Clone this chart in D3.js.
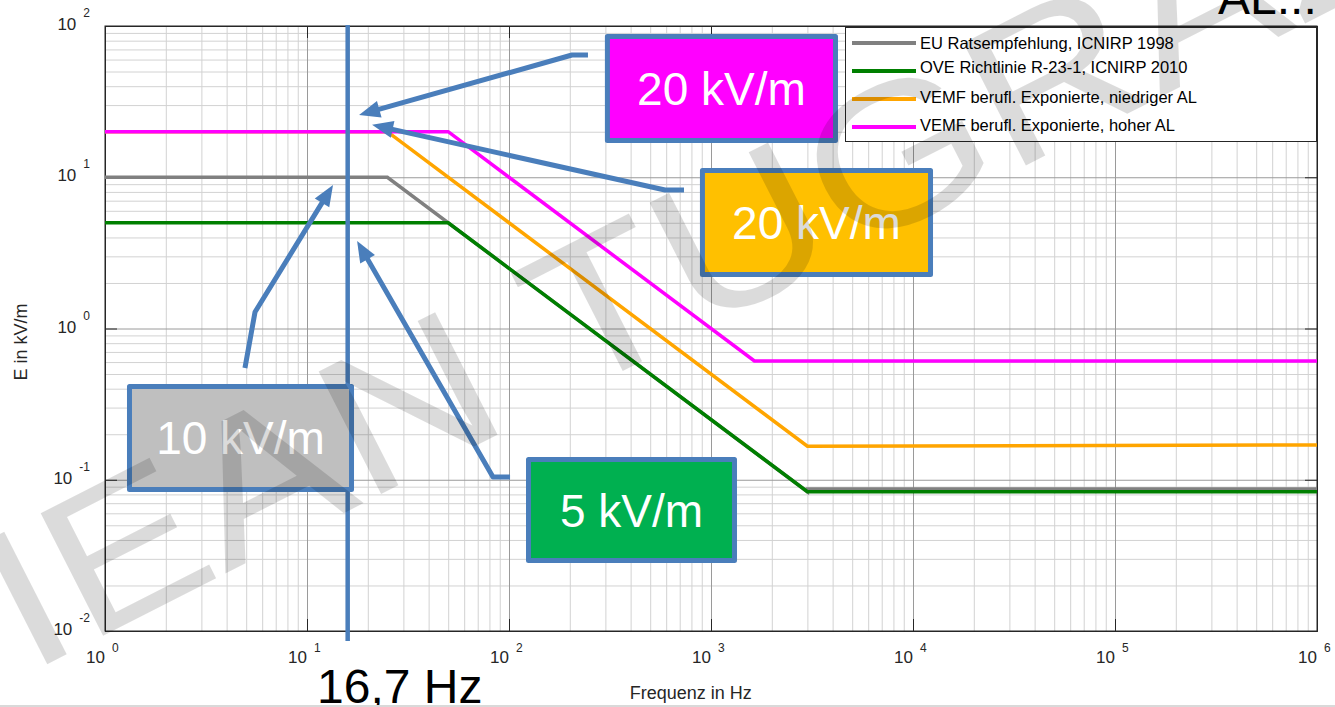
<!DOCTYPE html>
<html>
<head>
<meta charset="utf-8">
<script src="https://cdn.jsdelivr.net/npm/d3@7"></script>
<style>
  body { margin: 0; background: #fff; }
  svg { display: block; font-family: "Liberation Sans", Arial, sans-serif; }
</style>
</head>
<body>
<div id="chart"></div>
<script>
// limit curves: frequency in Hz, field strength in kV/m
var freqEU = [1, 25, 3000, 3000, 1e6];
var eEU = [10, 10, 0.0833, 0.087, 0.087];
var freqOVE = [1, 50, 3000, 1e6];
var eOVE = [5, 5, 0.0833, 0.0833];
var freqLow = [1, 25, 3000, 1e6];
var eLow = [20, 20, 0.1667, 0.17];
var freqHigh = [1, 50, 1640, 1e6];
var eHigh = [20, 20, 0.61, 0.61];

var seriesNames = ["EU Ratsempfehlung, ICNIRP 1998", "OVE Richtlinie R-23-1, ICNIRP 2010",
                   "VEMF berufl. Exponierte, niedriger AL", "VEMF berufl. Exponierte, hoher AL"];
var seriesColors = ["#808080", "#007f00", "#ffa500", "#ff00ff"];

var xExponents = [0, 1, 2, 3, 4, 5, 6];
var yExponents = [-2, -1, 0, 1, 2];

// callouts (in data units)
var markerFreq = 15.9;
var markerE = [101.5, 0.0086];
var boxLabels = ["20 kV/m", "20 kV/m", "10 kV/m", "5 kV/m"];
var boxFills = ["#ff00ff", "#ffc000", "#bfbfbf", "#00b050"];
var boxFreq = [[307, 4133], [907, 12210], [1.322, 16.61], [124.9, 1307]];
var boxE = [[85.2, 17.5], [11.08, 2.275], [0.4136, 0.0862], [0.1361, 0.02924]];
var arrowFreq = [[246, 205, 18.1], [735, 592, 21.0], [4.93, 5.53, 13.45], [101.2, 83.3, 17.7]];
var arrowE = [[64.3, 64.3, 25.8], [8.24, 8.24, 22.2], [0.548, 1.285, 8.89], [0.1043, 0.1043, 3.79]];

var margin = {top: 26, right: 18, bottom: 76, left: 105};
var width = 1335 - margin.left - margin.right;
var height = 707 - margin.top - margin.bottom;
var blue = "#4a7ebb";

var svg = d3.select("#chart").append("svg")
    .attr("width", 1335)
    .attr("height", 707);

var g = svg.append("g")
    .attr("transform", "translate(" + margin.left + "," + margin.top + ")");

var x = d3.scaleLog().domain([1, 1e6]).range([0, width]);
var y = d3.scaleLog().domain([0.01, 100]).range([height, 0]);

var minorX = [], minorY = [];
xExponents.slice(0, -1).forEach(function(e) {
  for (var k = 2; k <= 9; k++) minorX.push(k * Math.pow(10, e));
});
yExponents.slice(0, -1).forEach(function(e) {
  for (var k = 2; k <= 9; k++) minorY.push(k * Math.pow(10, e));
});
var majorX = xExponents.map(function(e) { return Math.pow(10, e); });
var majorY = yExponents.map(function(e) { return Math.pow(10, e); });

// grid
g.append("g").attr("class", "grid")
  .attr("transform", "translate(0," + height + ")")
  .call(d3.axisBottom(x).tickValues(minorX).tickSize(-height).tickFormat(""))
  .call(function(s) { s.select(".domain").remove(); s.selectAll("line").attr("stroke", "#d2d2d2"); });
g.append("g").attr("class", "grid")
  .call(d3.axisLeft(y).tickValues(minorY).tickSize(-width).tickFormat(""))
  .call(function(s) { s.select(".domain").remove(); s.selectAll("line").attr("stroke", "#d2d2d2"); });
g.append("g").attr("class", "grid")
  .attr("transform", "translate(0," + height + ")")
  .call(d3.axisBottom(x).tickValues(majorX).tickSize(-height).tickFormat(""))
  .call(function(s) { s.select(".domain").remove(); s.selectAll("line").attr("stroke", "#9a9a9a"); });
g.append("g").attr("class", "grid")
  .call(d3.axisLeft(y).tickValues(majorY).tickSize(-width).tickFormat(""))
  .call(function(s) { s.select(".domain").remove(); s.selectAll("line").attr("stroke", "#9a9a9a"); });

// inner major ticks on all four sides
g.append("g").attr("transform", "translate(0," + height + ")")
  .call(d3.axisTop(x).tickValues(majorX).tickSize(12).tickFormat(""));
g.append("g")
  .call(d3.axisBottom(x).tickValues(majorX).tickSize(12).tickFormat(""));
g.append("g")
  .call(d3.axisRight(y).tickValues(majorY).tickSize(12).tickFormat(""));
g.append("g").attr("transform", "translate(" + width + ",0)")
  .call(d3.axisLeft(y).tickValues(majorY).tickSize(12).tickFormat(""));
g.selectAll(".domain").attr("stroke", "#262626");
g.selectAll(".tick line").filter(function() { return !this.closest(".grid"); }).attr("stroke", "#262626");

g.append("rect")
  .attr("width", width).attr("height", height)
  .attr("fill", "none").attr("stroke", "#262626");

// tick labels
xExponents.forEach(function(e) {
  var px = x(Math.pow(10, e));
  g.append("text").attr("x", px).attr("y", height + 32)
    .attr("text-anchor", "end").attr("font-size", 17).attr("fill", "#262626").text("10");
  g.append("text").attr("x", px + 7).attr("y", height + 21)
    .attr("font-size", 12).attr("fill", "#262626").text(e);
});
yExponents.forEach(function(e) {
  var t = svg.append("text").attr("x", 90).attr("y", margin.top + y(Math.pow(10, e)) + 4)
    .attr("text-anchor", "end").attr("fill", "#262626").attr("font-size", 17);
  t.append("tspan").text("10");
  t.append("tspan").attr("dx", 7).attr("dy", -13).attr("font-size", 12).text(e);
});

svg.append("text")
  .attr("x", margin.left + x(Math.pow(10, 2.9)))
  .attr("y", 699)
  .attr("text-anchor", "middle").attr("font-size", 18).attr("fill", "#262626")
  .text("Frequenz in Hz");
svg.append("text")
  .attr("transform", "translate(27," + 342 + ") rotate(-90)")
  .attr("text-anchor", "middle").attr("font-size", 18).attr("fill", "#262626")
  .text("E in kV/m");

// curves
var line = d3.line()
  .x(function(d) { return x(d[0]); })
  .y(function(d) { return y(d[1]); });

var series = [
  d3.zip(freqEU, eEU),
  d3.zip(freqOVE, eOVE),
  d3.zip(freqLow, eLow),
  d3.zip(freqHigh, eHigh)
];

g.selectAll(".curve")
  .data(series)
  .enter().append("path")
    .attr("class", "curve")
    .attr("d", line)
    .attr("fill", "none")
    .attr("stroke", function(d, i) { return seriesColors[i]; })
    .attr("stroke-width", 3.5);

// legend
var legend = svg.append("g");
legend.append("rect")
  .attr("x", 845.5).attr("y", 27.5).attr("width", 471).attr("height", 114)
  .attr("fill", "#fff").attr("stroke", "#262626");
var rowY = [43, 71, 99, 127];
var rowText = [48.5, 72.5, 103, 131];
seriesNames.forEach(function(name, i) {
  legend.append("line")
    .attr("x1", 852).attr("x2", 916).attr("y1", rowY[i]).attr("y2", rowY[i])
    .attr("stroke", seriesColors[i]).attr("stroke-width", 4);
  legend.append("text")
    .attr("x", 920).attr("y", rowText[i])
    .attr("font-size", 16.5).attr("fill", "#000")
    .text(name);
});

// callouts
var ann = g.append("g");
ann.append("line")
  .attr("x1", x(markerFreq)).attr("x2", x(markerFreq))
  .attr("y1", y(markerE[0])).attr("y2", y(markerE[1]))
  .attr("stroke", blue).attr("stroke-width", 4.5);

boxLabels.forEach(function(label, i) {
  var x0 = x(boxFreq[i][0]), x1 = x(boxFreq[i][1]);
  var y0 = y(boxE[i][0]), y1 = y(boxE[i][1]);
  ann.append("rect")
    .attr("x", x0).attr("y", y0)
    .attr("width", x1 - x0).attr("height", y1 - y0)
    .attr("fill", boxFills[i])
    .attr("stroke", blue).attr("stroke-width", 5)
    .attr("stroke-linejoin", "round");
  ann.append("text")
    .attr("x", (x0 + x1) / 2).attr("y", (y0 + y1) / 2 + 16.5)
    .attr("text-anchor", "middle").attr("font-size", 46).attr("fill", "#fff")
    .text(label);
});

arrowFreq.forEach(function(fs, i) {
  var pts = fs.map(function(f, j) { return [x(f), y(arrowE[i][j])]; });
  var tip = pts[pts.length - 1], prev = pts[pts.length - 2];
  var dx = tip[0] - prev[0], dy = tip[1] - prev[1];
  var len = Math.sqrt(dx * dx + dy * dy);
  var ux = dx / len, uy = dy / len;
  var shaft = pts.slice(0, -1).concat([[tip[0] - ux * 14, tip[1] - uy * 14]]);
  ann.append("path")
    .attr("d", d3.line()(shaft))
    .attr("fill", "none").attr("stroke", blue).attr("stroke-width", 5)
    .attr("stroke-linejoin", "round");
  var hl = 21, hw = 8.5;
  var bx = tip[0] - ux * hl, by = tip[1] - uy * hl;
  ann.append("path")
    .attr("d", "M" + tip[0] + "," + tip[1] +
               "L" + (bx - uy * hw) + "," + (by + ux * hw) +
               "L" + (bx + uy * hw) + "," + (by - ux * hw) + "Z")
    .attr("fill", blue);
});

svg.append("text")
  .attr("x", 317).attr("y", 703)
  .attr("font-size", 48).attr("fill", "#000")
  .text("16,7 Hz");

svg.append("text")
  .attr("x", 1218).attr("y", 14)
  .attr("font-size", 48).attr("fill", "#000")
  .text("AL...");

svg.append("rect")
  .attr("x", 0).attr("y", 705).attr("width", 1335).attr("height", 2)
  .attr("fill", "#d9d9d9");

// watermark
svg.append("text")
  .attr("transform", "translate(28,674) rotate(-27) scale(1.17,1)")
  .attr("font-size", 200)
  .attr("fill", "rgba(0,0,0,0.14)")
  .text("IEAN TUGRAZ");
</script>
</body>
</html>
